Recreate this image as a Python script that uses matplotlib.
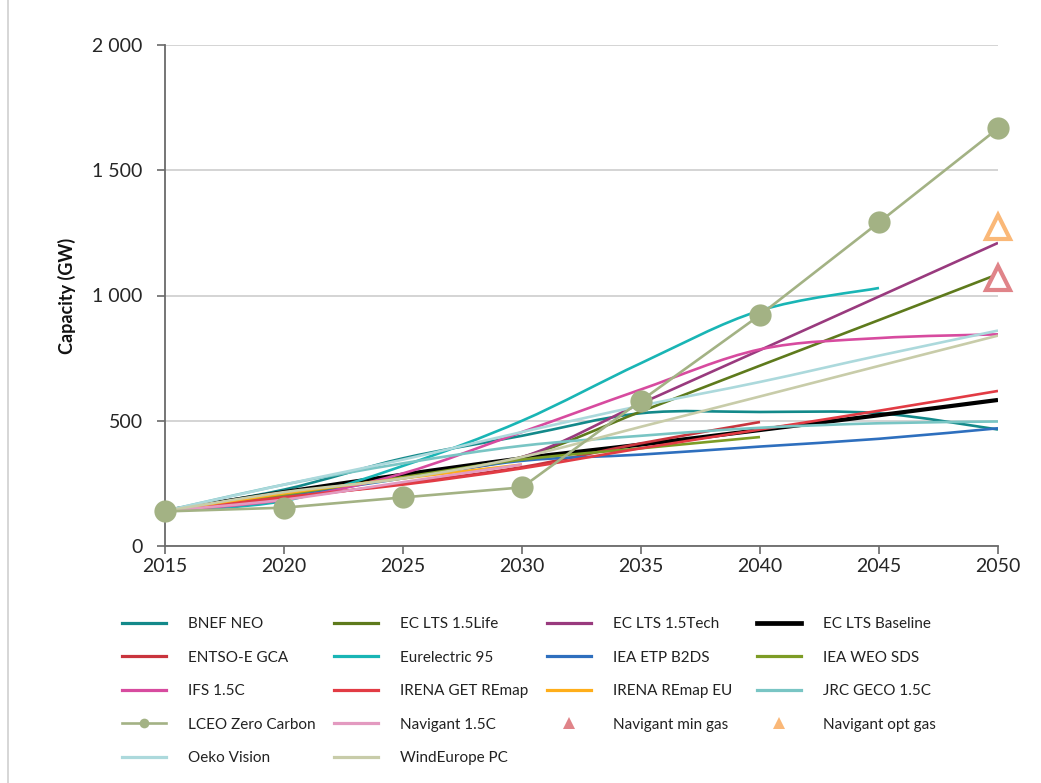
import numpy as np
import matplotlib
matplotlib.use("Agg")
import matplotlib.pyplot as plt
from matplotlib.path import Path
from matplotlib.patches import PathPatch
from matplotlib.lines import Line2D
from matplotlib.ticker import FixedLocator, FuncFormatter

nan = np.nan
years = [2015, 2020, 2025, 2030, 2035, 2040, 2045, 2050]

bnef_neo = [140, 225, 350, 440, 530, 535, 530, 465]
ec_lts_life = [140, 205, 280, 355, 537, 720, 902, 1085]
ec_lts_tech = [140, 205, 280, 355, 569, 782, 996, 1210]
ec_lts_base = [140, 215, 285, 350, 405, 463, 522, 583]
entsoe_gca = [140, 190, 250, 315, 410, 495, nan, nan]
eurelectric_95 = [140, 180, 320, 500, 730, 940, 1030, nan]
iea_etp_b2ds = [140, 200, 270, 340, 365, 397, 428, 470]
iea_weo_sds = [140, 205, 275, 345, 390, 435, nan, nan]
ifs_15c = [140, 185, 290, 455, 625, 785, 830, 845]
irena_get = [140, 195, 245, 310, 390, 465, 540, 619]
irena_remap_eu = [140, 210, 270, 325, nan, nan, nan, nan]
jrc_geco = [140, 245, 330, 400, 440, 472, 490, 497]
lceo_zero = [138, 153, 194, 234, 580, 922, 1292, 1667]
navigant_15c = [140, 185, 255, 325, nan, nan, nan, nan]
oeko_vision = [140, 245, 345, 455, 560, 655, 760, 860]
windeurope_pc = [140, 215, 270, 355, 476, 597, 719, 840]
navigant_min_gas = 1070
navigant_opt_gas = 1275
gas_year = 2050

y_ticks = [0, 500, 1000, 1500, 2000]
x_ticks = [2015, 2020, 2025, 2030, 2035, 2040, 2045, 2050]

FONT = "Lato"
plt.rcParams["font.family"] = [FONT, "DejaVu Sans"]

fig = plt.figure(figsize=(10.41, 7.83), dpi=100)
ax = fig.add_axes([165 / 1041, 1 - 546 / 783, (998 - 165) / 1041, (546 - 45) / 783])


def smooth_curve(ax, xs, ys, color, lw):
    """Draw an Excel-style smoothed line (cubic Bezier through the points)."""
    pts = np.array([(x, y) for x, y in zip(xs, ys) if not np.isnan(y)], float)
    n = len(pts)
    verts = [pts[0]]
    codes = [Path.MOVETO]
    for i in range(n - 1):
        prev_p = pts[i - 1] if i > 0 else pts[i]
        next_p = pts[i + 2] if i + 2 < n else pts[i + 1]
        c1 = pts[i] + (pts[i + 1] - prev_p) / 6.0
        c2 = pts[i + 1] - (next_p - pts[i]) / 6.0
        verts += [c1, c2, pts[i + 1]]
        codes += [Path.CURVE4] * 3
    patch = PathPatch(Path(verts, codes), fill=False, edgecolor=color,
                      lw=lw, capstyle="butt", joinstyle="round")
    ax.add_patch(patch)


series = [
    ("BNEF NEO", bnef_neo, "#13898a", 1.9),
    ("EC LTS 1.5Life", ec_lts_life, "#5e7a1c", 1.9),
    ("EC LTS 1.5Tech", ec_lts_tech, "#993a7e", 1.9),
    ("EC LTS Baseline", ec_lts_base, "#000000", 3.0),
    ("ENTSO-E GCA", entsoe_gca, "#c9343d", 1.9),
    ("Eurelectric 95", eurelectric_95, "#19b5b5", 1.9),
    ("IEA ETP B2DS", iea_etp_b2ds, "#2e6fbe", 1.9),
    ("IEA WEO SDS", iea_weo_sds, "#7d9c25", 1.9),
    ("IFS 1.5C", ifs_15c, "#d74b9f", 1.9),
    ("IRENA GET REmap", irena_get, "#e23b44", 1.9),
    ("IRENA REmap EU", irena_remap_eu, "#ffae1a", 1.9),
    ("JRC GECO 1.5C", jrc_geco, "#79c5c4", 1.9),
    ("LCEO Zero Carbon", lceo_zero, "#a3b284", 1.9),
    ("Navigant 1.5C", navigant_15c, "#e39ac0", 1.9),
    ("Navigant min gas", None, "#e08489", None),
    ("Navigant opt gas", None, "#fab878", None),
    ("Oeko Vision", oeko_vision, "#acd9dc", 1.9),
    ("WindEurope PC", windeurope_pc, "#c8cca9", 1.9),
]

handles = []
for name, vals, color, lw in series:
    if name == "LCEO Zero Carbon":
        ax.plot(years, vals, color=color, lw=lw, marker="o", markersize=16,
                markeredgewidth=0, clip_on=False, zorder=5)
        handles.append(Line2D([], [], color=color, lw=lw, marker="o",
                              markersize=7, markeredgewidth=0, label=name))
    elif name in ("Navigant min gas", "Navigant opt gas"):
        val = navigant_min_gas if "min" in name else navigant_opt_gas
        ax.plot([gas_year], [val], ls="none", marker="^", markersize=17,
                markerfacecolor="white", markeredgecolor=color,
                markeredgewidth=3, clip_on=False, zorder=6)
        handles.append(Line2D([], [], ls="none", marker="^", markersize=8,
                              color=color, markeredgewidth=0, label=name))
    else:
        smooth_curve(ax, years, vals, color, lw)
        handles.append(Line2D([], [], color=color, lw=lw + 0.4, label=name))

ax.set_xlim(2015, 2050)
ax.set_ylim(0, 2000)
ax.yaxis.set_major_locator(FixedLocator(y_ticks))
ax.xaxis.set_major_locator(FixedLocator(x_ticks))
ax.yaxis.set_major_formatter(FuncFormatter(lambda v, p: f"{int(v):,}".replace(",", " ")))
ax.grid(axis="y", color="#d4d4d4", lw=1.4, zorder=0)
ax.set_axisbelow(True)
for s in ("top", "right"):
    ax.spines[s].set_visible(False)
for s in ("left", "bottom"):
    ax.spines[s].set_color("#6a6a6a")
    ax.spines[s].set_linewidth(1.3)
ax.tick_params(axis="both", direction="out", length=6, width=1.2,
               color="#6a6a6a", labelsize=14, labelcolor="#262626")
ax.tick_params(axis="y", pad=10)
ax.tick_params(axis="x", pad=3)
ax.set_ylabel("Capacity (GW)", fontsize=13, fontweight="bold",
              color="#111111", labelpad=12)

# Legend laid out as four columns, filled row by row
col_x = [122, 334, 547, 757]
ncol = 4
for c in range(ncol):
    col_handles = handles[c::ncol]
    fig.legend(handles=col_handles, loc="upper left",
               bbox_to_anchor=(col_x[c] / 1041, 1 - 617 / 783),
               frameon=False, fontsize=11, handlelength=2.9,
               handletextpad=1.45, borderpad=0, borderaxespad=0,
               labelspacing=1.28, labelcolor="#222222")

# Thin frame edge on the left of the figure
fig.add_artist(Line2D([8 / 1041, 8 / 1041], [0, 1], color="#d0d0d0", lw=1.2,
                      transform=fig.transFigure))

fig.savefig("out.png", dpi=100)
